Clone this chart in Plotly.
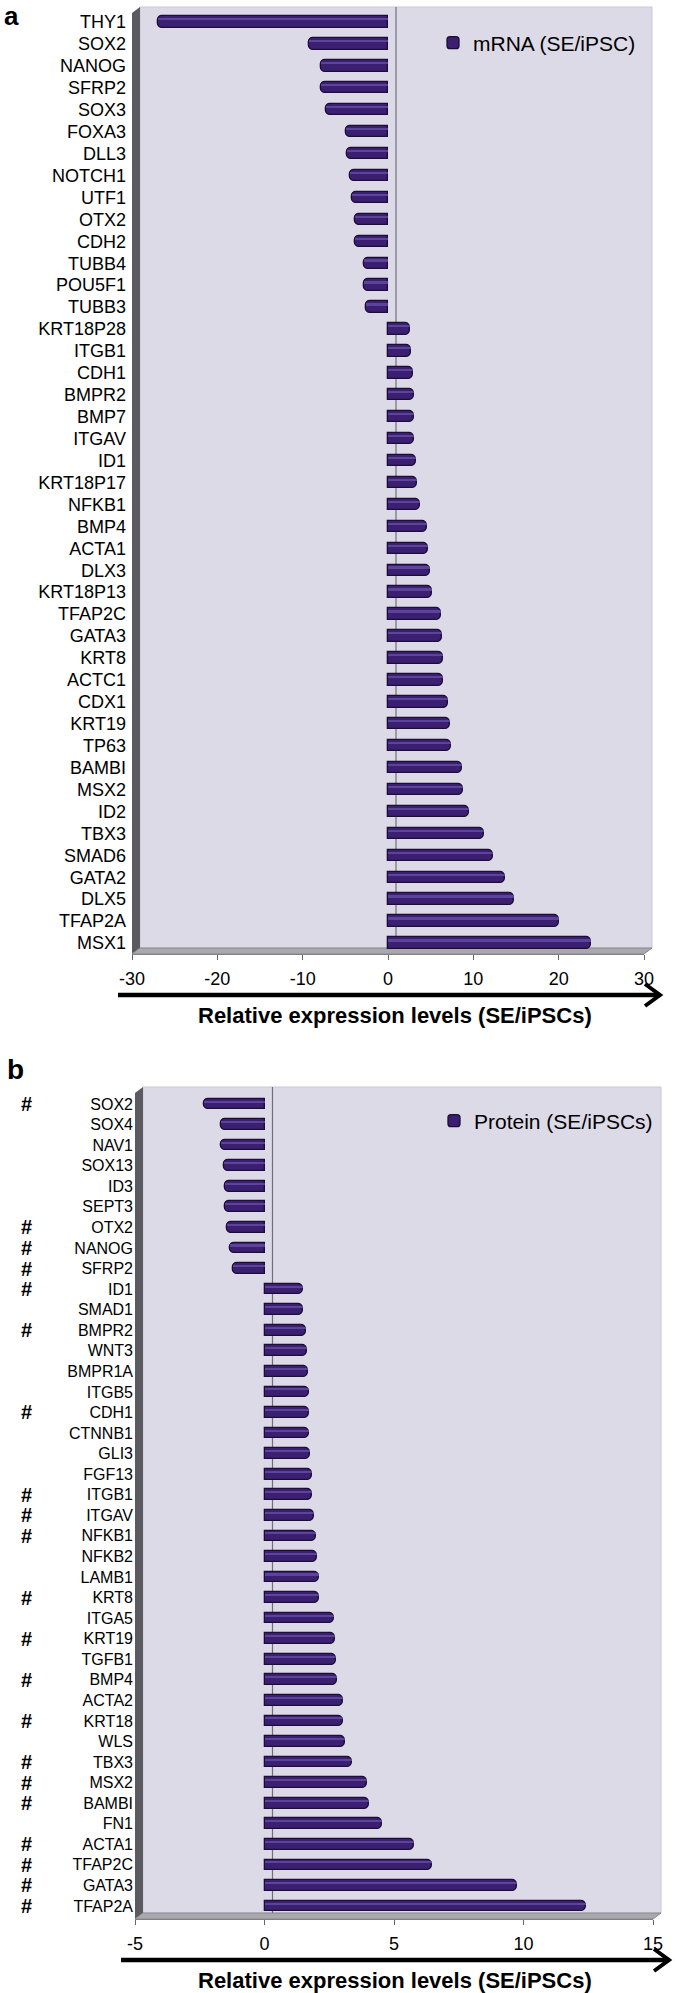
import plotly.graph_objects as go

W, H = 675, 1993
FONT = "Liberation Sans, Arial, sans-serif"

# ---------------- data ----------------
mrna_genes = ["THY1", "SOX2", "NANOG", "SFRP2", "SOX3", "FOXA3", "DLL3", "NOTCH1", "UTF1", "OTX2",
              "CDH2", "TUBB4", "POU5F1", "TUBB3", "KRT18P28", "ITGB1", "CDH1", "BMPR2", "BMP7", "ITGAV",
              "ID1", "KRT18P17", "NFKB1", "BMP4", "ACTA1", "DLX3", "KRT18P13", "TFAP2C", "GATA3", "KRT8",
              "ACTC1", "CDX1", "KRT19", "TP63", "BAMBI", "MSX2", "ID2", "TBX3", "SMAD6", "GATA2",
              "DLX5", "TFAP2A", "MSX1"]
mrna_values = [-27.0, -9.3, -7.9, -7.8, -7.3, -4.9, -4.8, -4.5, -4.2, -3.9,
               -3.9, -2.8, -2.8, -2.6, 2.6, 2.7, 2.9, 3.0, 3.0, 3.0,
               3.3, 3.4, 3.8, 4.6, 4.7, 4.9, 5.2, 6.2, 6.3, 6.4,
               6.5, 7.0, 7.3, 7.4, 8.7, 8.8, 9.5, 11.2, 12.3, 13.7,
               14.8, 20.0, 23.8]

protein_genes = ["SOX2", "SOX4", "NAV1", "SOX13", "ID3", "SEPT3", "OTX2", "NANOG", "SFRP2", "ID1",
                 "SMAD1", "BMPR2", "WNT3", "BMPR1A", "ITGB5", "CDH1", "CTNNB1", "GLI3", "FGF13", "ITGB1",
                 "ITGAV", "NFKB1", "NFKB2", "LAMB1", "KRT8", "ITGA5", "KRT19", "TGFB1", "BMP4", "ACTA2",
                 "KRT18", "WLS", "TBX3", "MSX2", "BAMBI", "FN1", "ACTA1", "TFAP2C", "GATA3", "TFAP2A"]
protein_values = [-2.33, -1.68, -1.68, -1.55, -1.53, -1.53, -1.43, -1.35, -1.22, 1.48,
                  1.48, 1.60, 1.65, 1.67, 1.70, 1.70, 1.73, 1.75, 1.85, 1.85,
                  1.93, 1.98, 2.03, 2.12, 2.12, 2.68, 2.73, 2.77, 2.80, 3.05,
                  3.05, 3.12, 3.38, 3.97, 4.05, 4.53, 5.77, 6.48, 9.75, 12.42]
protein_marks = ["#", "", "", "", "", "", "#", "#", "#", "#",
                 "", "#", "", "", "", "#", "", "", "", "#",
                 "#", "#", "", "", "#", "", "#", "", "#", "",
                 "#", "", "#", "#", "#", "", "#", "#", "#", "#"]

mrna_ticks = [-30, -20, -10, 0, 10, 20, 30]
mrna_tick_labels = ["-30", "-20", "-10", "0", "10", "20", "30"]
protein_ticks = [-5, 0, 5, 10, 15]
protein_tick_labels = ["-5", "0", "5", "10", "15"]
axis_title = "Relative expression levels (SE/iPSCs)"

# ---------------- layout helpers (pixel -> paper) ----------------
def px(x):
    return x / W

def py(y):
    return 1 - y / H

BAR_COL = "#3b1f70"
BAR_LINE = "#1c0d36"
HI_COL = "#6a51aa"
WALL = "#dddae8"
SIDE = "#5a5a60"
FLOOR = "#a9a9ad"

# panel geometry (pixels)
A = dict(x0=132, x1=644, top=11.0, bot=954.0, depth=(8, 6), rng=[-30, 30])
B = dict(x0=135, x1=653, top=1091.0, bot=1919.0, depth=(8, 6), rng=[-5, 15])

fig = go.Figure()

def add_panel(genes, values, name, xa, ya, legend):
    fig.add_trace(go.Bar(
        x=values, y=genes, orientation="h", name=name, xaxis=xa, yaxis=ya,
        width=0.52, legend=legend,
        marker=dict(color=BAR_COL, line=dict(color=BAR_LINE, width=1.3), cornerradius=5),
        hoverinfo="x+y"))
    fig.add_trace(go.Bar(
        x=values, y=genes, orientation="h", xaxis=xa, yaxis=ya,
        width=0.1, offset=-0.17, showlegend=False, hoverinfo="skip",
        marker=dict(color=HI_COL, line=dict(width=0), cornerradius=3, opacity=0.75)))

add_panel(mrna_genes, mrna_values, "mRNA (SE/iPSC)", "x", "y", "legend")
add_panel(protein_genes, protein_values, "Protein (SE/iPSCs)", "x2", "y2", "legend2")

shapes = []
annotations = []

def decorate(P):
    dx, dy = P["depth"]
    x0, x1, top, bot = P["x0"], P["x1"], P["top"], P["bot"]
    # back wall
    shapes.append(dict(type="rect", xref="paper", yref="paper", layer="below",
                       x0=px(x0 + dx), x1=px(x1 + dx), y0=py(bot - dy), y1=py(top - dy + 2),
                       fillcolor=WALL, line=dict(color="#c9c6d6", width=1)))
    # left side wall
    shapes.append(dict(type="path", xref="paper", yref="paper", layer="below",
                       path=f"M{px(x0)},{py(bot)} L{px(x0)},{py(top + 2)} L{px(x0 + dx)},{py(top - dy + 2)} "
                            f"L{px(x0 + dx)},{py(bot - dy)} Z",
                       fillcolor=SIDE, line=dict(width=0)))
    # floor
    shapes.append(dict(type="path", xref="paper", yref="paper", layer="below",
                       path=f"M{px(x0)},{py(bot)} L{px(x0 + dx)},{py(bot - dy)} L{px(x1 + dx)},{py(bot - dy)} "
                            f"L{px(x1)},{py(bot)} Z",
                       fillcolor=FLOOR, line=dict(color="#8a8a8e", width=1)))
    # zero line on back wall (3D offset)
    r0, r1 = P["rng"]
    zx = x0 + (0 - r0) / (r1 - r0) * (x1 - x0)
    shapes.append(dict(type="line", xref="paper", yref="paper", layer="below",
                       x0=px(zx + dx), x1=px(zx + dx), y0=py(bot - dy), y1=py(top - dy + 2),
                       line=dict(color="#707078", width=1.2)))
    # arrow under the axis
    ay = bot + 41
    shapes.append(dict(type="line", xref="paper", yref="paper",
                       x0=px(x0 - 14), x1=px(x1 + 16), y0=py(ay), y1=py(ay),
                       line=dict(color="black", width=4.5)))
    shapes.append(dict(type="path", xref="paper", yref="paper",
                       path=f"M{px(x1 + 1)},{py(ay - 11)} L{px(x1 + 16)},{py(ay)} L{px(x1 + 1)},{py(ay + 11)}",
                       line=dict(color="black", width=4)))
    annotations.append(dict(text=f"<b>{axis_title}</b>", xref="paper", yref="paper",
                            x=px(395), y=py(ay + 20), xanchor="center", yanchor="middle",
                            showarrow=False, font=dict(family=FONT, size=22, color="black")))
    return zx

zxa = decorate(A)
zxb = decorate(B)

# '#' markers for panel b
for g, m in zip(protein_genes, protein_marks):
    if m:
        annotations.append(dict(text=f"<b>{m}</b>", xref="paper", yref="y2", x=px(26), y=g,
                                xanchor="center", yanchor="middle", showarrow=False,
                                font=dict(family=FONT, size=20, color="black")))

# panel letters
annotations.append(dict(text="<b>a</b>", xref="paper", yref="paper", x=px(2), y=py(16),
                        xanchor="left", yanchor="middle", showarrow=False,
                        font=dict(family=FONT, size=26, color="black")))
annotations.append(dict(text="<b>b</b>", xref="paper", yref="paper", x=px(5), y=py(1069),
                        xanchor="left", yanchor="middle", showarrow=False,
                        font=dict(family=FONT, size=28, color="black")))

def xaxis_cfg(P, ya, ticks, labels):
    return dict(domain=[px(P["x0"]), px(P["x1"])], range=P["rng"], anchor=ya,
                tickmode="array", tickvals=ticks, ticktext=labels,
                ticks="outside", ticklen=5, tickcolor="#666",
                showline=True, linecolor="#808085", linewidth=1,
                showgrid=False, zeroline=False, automargin=False,
                tickfont=dict(family=FONT, size=18, color="black"), ticklabelstandoff=3)

def yaxis_cfg(P, xa, genes, size, standoff):
    return dict(domain=[py(P["bot"]), py(P["top"])], anchor=xa, type="category",
                categoryorder="array", categoryarray=genes, autorange="reversed",
                tickmode="array", tickvals=genes, ticktext=genes,
                showgrid=False, zeroline=False, showline=False, ticks="", automargin=False,
                tickfont=dict(family=FONT, size=size, color="black"), ticklabelstandoff=standoff)

def tick_axis(overlay, zx, n, side):
    return dict(overlaying=overlay, anchor="free", position=px(zx), side=side,
                range=[n - 0.5, -0.5], tickmode="array", tickvals=[i - 0.5 for i in range(n + 1)],
                ticks="outside", ticklen=4, tickcolor="#555", showticklabels=False,
                showgrid=False, zeroline=False, showline=(side == "left"), automargin=False,
                linecolor="#555", linewidth=1.2, fixedrange=True)

fig.update_layout(
    template="none",
    width=W, height=H, margin=dict(l=0, r=0, t=0, b=0, pad=0, autoexpand=False),
    paper_bgcolor="white", plot_bgcolor="rgba(0,0,0,0)",
    barmode="overlay", bargap=0,
    font=dict(family=FONT, color="black"),
    xaxis=xaxis_cfg(A, "y", mrna_ticks, mrna_tick_labels),
    yaxis=yaxis_cfg(A, "x", mrna_genes, 18, 5),
    xaxis2=xaxis_cfg(B, "y2", protein_ticks, protein_tick_labels),
    yaxis2=yaxis_cfg(B, "x2", protein_genes, 16, 1),
    yaxis3=tick_axis("y", zxa, len(mrna_genes), "left"),
    yaxis4=tick_axis("y", zxa, len(mrna_genes), "right"),
    yaxis5=tick_axis("y2", zxb, len(protein_genes), "left"),
    yaxis6=tick_axis("y2", zxb, len(protein_genes), "right"),
    legend=dict(x=px(433), y=py(43), xanchor="left", yanchor="middle",
                bgcolor="rgba(0,0,0,0)", borderwidth=0,
                font=dict(family=FONT, size=21, color="black")),
    legend2=dict(x=px(434), y=py(1121), xanchor="left", yanchor="middle",
                 bgcolor="rgba(0,0,0,0)", borderwidth=0,
                 font=dict(family=FONT, size=21, color="black")),
    shapes=shapes, annotations=annotations,
)

fig.write_html("out.html", config={"displayModeBar": False},
               post_script="document.body.style.margin='0px';document.body.style.padding='0px';")
